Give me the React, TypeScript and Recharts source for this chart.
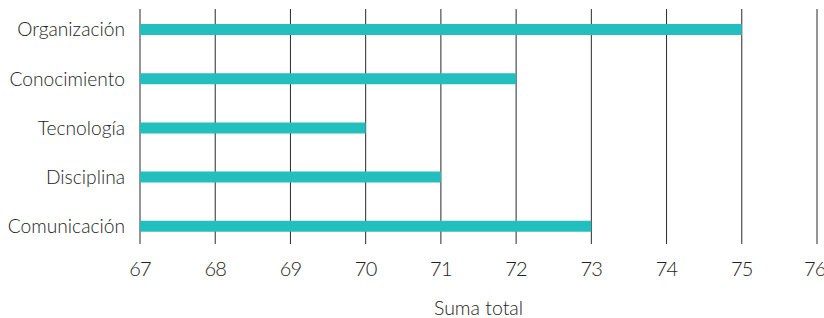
import React from 'react';
import { BarChart, Bar, XAxis, YAxis, CartesianGrid } from 'recharts';

const categories = ['Organización', 'Conocimiento', 'Tecnología', 'Disciplina', 'Comunicación'];
const values = [75, 72, 70, 71, 73];
const xTicks = [67, 68, 69, 70, 71, 72, 73, 74, 75, 76];

const data = categories.map((c, i) => ({ name: c, value: values[i] }));

const font = 'Lato, "Noto Sans", sans-serif';

export default function App() {
  return (
    <div style={{ position: 'absolute', left: 0, top: 0, width: 824, height: 318, background: '#fff' }}>
      <BarChart
        width={824}
        height={318}
        data={data}
        layout="vertical"
        margin={{ top: 5, right: 7, bottom: 0, left: 0 }}
        barCategoryGap={0}
      >
        <CartesianGrid horizontal={false} stroke="#2a2a2a" y={9} height={235} />
        <XAxis
          type="number"
          domain={[67, 76]}
          ticks={xTicks}
          allowDataOverflow
          axisLine={false}
          tickLine={false}
          tickSize={0}
          tickMargin={11}
          height={67}
          tick={{ fill: '#222', fontSize: 20, fontFamily: font, fontWeight: 300, letterSpacing: -0.8 }}
          label={{ value: 'Suma total', position: 'insideBottom', offset: 3, fill: '#222', fontSize: 19.5, fontFamily: font, fontWeight: 300 }}
        />
        <YAxis
          type="category"
          dataKey="name"
          width={140}
          axisLine={false}
          tickLine={false}
          tickSize={0}
          tickMargin={15}
          tick={{ fill: '#222', fontSize: 19.2, fontFamily: font, fontWeight: 300 }}
        />
        <Bar dataKey="value" fill="#22bfbe" barSize={11} isAnimationActive={false} />
      </BarChart>
    </div>
  );
}
